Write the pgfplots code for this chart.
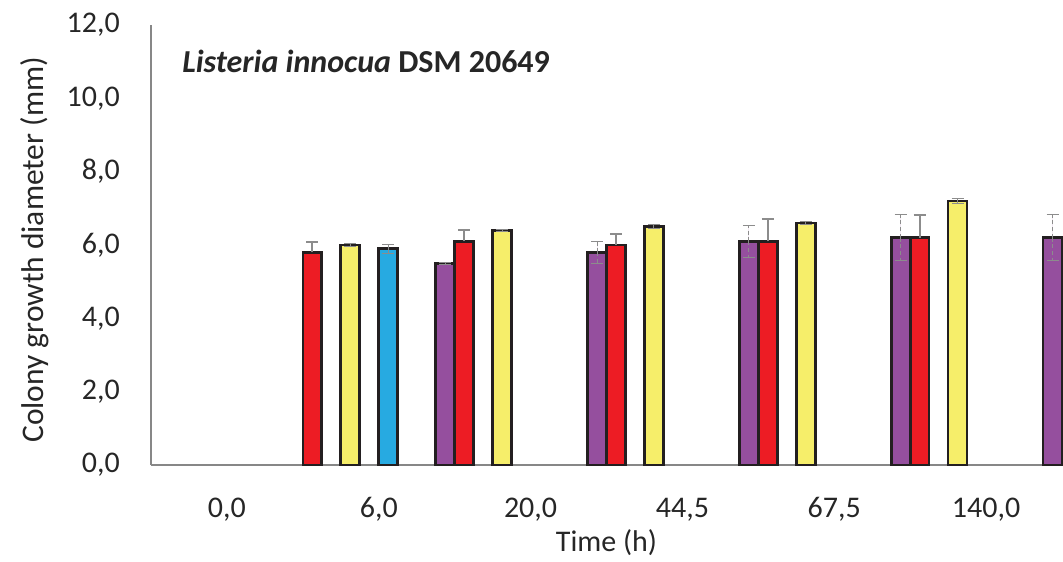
\documentclass[border=0pt]{standalone}
\usepackage{pgfplots}
\pgfplotsset{compat=1.18}
\usepackage{fontspec}
\setmainfont{Carlito}
\definecolor{cred}{HTML}{ED1C24}
\definecolor{cyel}{HTML}{F6EE6A}
\definecolor{cblue}{HTML}{27AAE1}
\definecolor{cpur}{HTML}{954F9E}
\definecolor{edge}{HTML}{231F20}
\definecolor{axgray}{HTML}{878787}
\definecolor{errgray}{HTML}{8C8C8C}
\newcommand{\bigfont}{\fontsize{22.5}{27}\selectfont}

\pgfplotstableread{
x y e
1 5.8 0.28
2 6.1 0.31
3 6.0 0.30
4 6.1 0.60
5 6.2 0.62
}\redtab
\pgfplotstableread{
x y e
1 6.0 0.05
2 6.4 0.03
3 6.5 0.05
4 6.6 0.05
5 7.2 0.07
}\yeltab
\pgfplotstableread{
x y e
1 5.9 0.12
}\bluetab
\pgfplotstableread{
x y e
1 5.5 0.03
2 5.8 0.29
3 6.1 0.43
4 6.2 0.62
5 6.2 0.62
}\purtab

\begin{document}
\begin{tikzpicture}
\begin{axis}[
  width=683.25pt, height=330pt, scale only axis,
  xmin=-0.5, xmax=5.5, ymin=0, ymax=12,
  axis x line=bottom, axis y line=left,
  axis line style={-, draw=axgray, line width=1.3pt},
  xtick={0,1,2,3,4,5},
  xticklabels={{0,0},{6,0},{20,0},{44,5},{67,5},{140,0}},
  ytick={0,2,4,6,8,10,12},
  major tick length=0pt,
  /pgf/number format/.cd, fixed, fixed zerofill, precision=1, use comma, assume math mode=true,
  /pgfplots/.cd,
  tick label style={font=\bigfont, text=black!85},
  yticklabel style={anchor=east, inner sep=0pt, xshift=-23.25pt},
  xticklabel style={anchor=base, inner sep=0pt, yshift=-39pt},
  ylabel={Colony growth diameter (mm)},
  ylabel style={at={(rel axis cs:0,0.489)}, anchor=center, yshift=87pt, font=\fontsize{23.6}{28}\selectfont, text=black!85},
  xlabel={Time (h)},
  xlabel style={at={(rel axis cs:0.5,0)}, anchor=base, inner sep=0pt, yshift=-65pt, font=\bigfont, text=black!85},
  ybar, bar width=0.125,
  every axis plot/.append style={draw=edge, line width=2pt},
  clip=false,
]
\addplot[fill=cred, draw=edge, bar shift=-0.4375,
  error bars/.cd, y dir=plus, y explicit,
  error bar style={draw=errgray, line width=1.6pt},
  error mark options={draw=errgray, line width=1.6pt, mark size=4.5pt, rotate=90}]
  table[x=x, y=y, y error=e]{\redtab};
\addplot[fill=cyel, draw=edge, bar shift=-0.1875,
  error bars/.cd, y dir=both, y explicit,
  error bar style={draw=errgray, line width=0.7pt},
  error mark options={draw=errgray, line width=0.7pt, mark size=4.5pt, rotate=90}]
  table[x=x, y=y, y error=e]{\yeltab};
\addplot[fill=cblue, draw=edge, bar shift=0.0625,
  error bars/.cd, y dir=both, y explicit,
  error bar style={draw=errgray, line width=0.7pt},
  error mark options={draw=errgray, line width=0.7pt, mark size=4.5pt, rotate=90}]
  table[x=x, y=y, y error=e]{\bluetab};
\addplot[fill=cpur, draw=edge, bar shift=0.4375,
  error bars/.cd, y dir=both, y explicit,
  error bar style={draw=errgray, line width=0.7pt, densely dashed},
  error mark options={draw=errgray, line width=0.7pt, mark size=4.5pt, rotate=90, solid}]
  table[x=x, y=y, y error=e]{\purtab};
\node[anchor=base west, inner sep=0pt, font=\fontsize{24}{29}\selectfont\bfseries, text=black!85]
  at (rel axis cs:0,0.892) [xshift=23.25pt] {\textit{Listeria innocua} DSM 20649};
\coordinate (O) at (rel axis cs:0,0);
\end{axis}
\pgfresetboundingbox
\path[use as bounding box] (O) ++(-113.25pt,-72pt) rectangle ++(797.25pt,420.75pt);
\end{tikzpicture}
\end{document}
